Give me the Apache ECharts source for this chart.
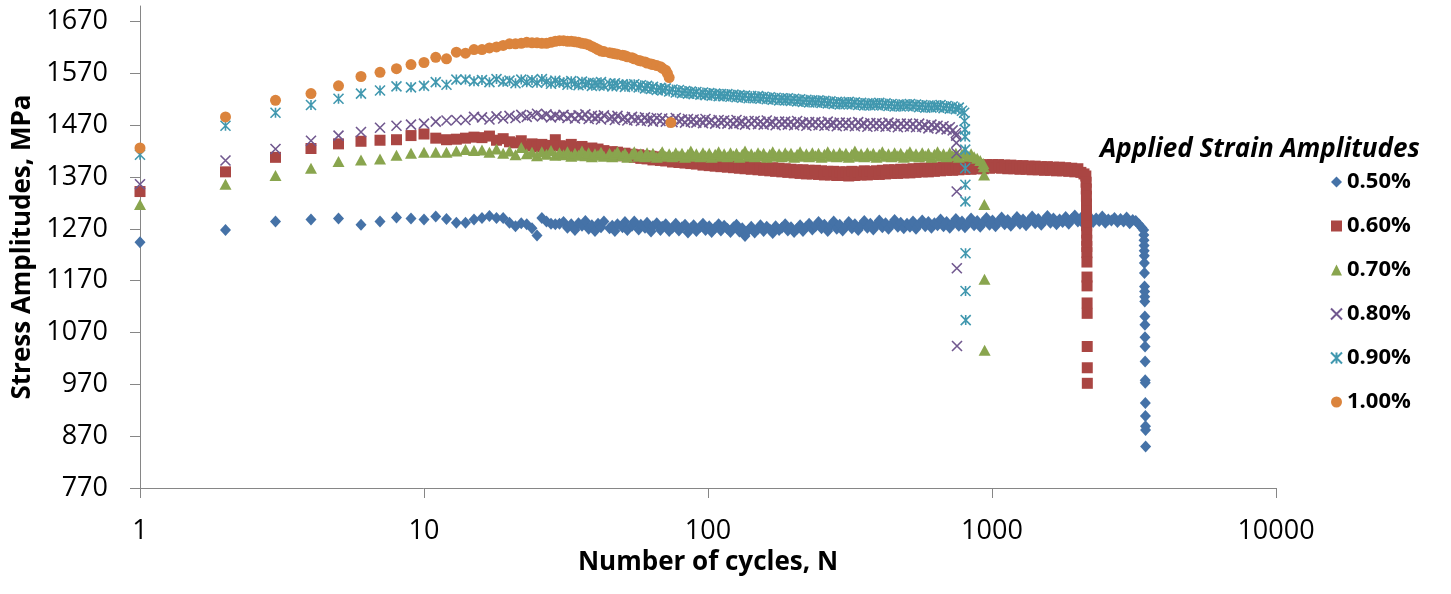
<!DOCTYPE html>
<html>
<head>
<meta charset="utf-8">
<title>Stress amplitude vs cycles</title>
<script src="https://cdn.jsdelivr.net/npm/echarts@6/dist/echarts.min.js"></script>
<style>
  html, body { margin: 0; padding: 0; background: #fff; }
  #chart { width: 1451px; height: 594px; }
</style>
</head>
<body>
<div id="chart"></div>
<script>
// cycle numbers shared by the series (every cycle up to 40, then sampled)
const cycles = [
  1, 2, 3, 4, 5, 6, 7, 8, 9, 10, 11, 12, 13, 14, 15, 16, 17, 18, 19, 20, 21, 22, 23, 24, 25, 26, 27, 28, 29, 30,
  31, 32, 33, 34, 35, 36, 37, 38, 39, 40,
  41, 42, 43, 45, 46, 47, 48, 50, 51, 52,
  54, 55, 57, 58, 60, 61, 63, 64, 66, 68,
  69, 71, 73, 75, 77, 79, 81, 83, 85, 87,
  89, 91, 94, 96, 98, 101, 103, 106, 109, 111,
  114, 117, 120, 123, 126, 129, 132, 135, 139, 142,
  146, 150, 153, 157, 161, 165, 169, 173, 178, 182,
  187, 191, 196, 201, 206, 211, 216, 222, 227, 233,
  239, 245, 251, 257, 264, 270, 277, 284, 291, 298,
  306, 313, 321, 329, 338, 346, 355, 364, 373, 382,
  392, 401, 411, 422, 432, 443, 454, 466, 477, 489,
  502, 514, 527, 540, 554, 568, 582, 597, 612, 627,
  643, 659, 675, 692, 710, 727, 746, 764, 784, 803,
  824, 844, 865, 887, 909, 932, 956, 980, 1004, 1029,
  1055, 1081, 1108, 1136, 1165, 1194, 1224, 1254, 1286, 1318,
  1351, 1385, 1419, 1455, 1491, 1529, 1567, 1606, 1646, 1687,
  1730, 1773, 1817, 1863, 1909, 1957, 2006, 2056, 2108, 2160,
  2215, 2270, 2327, 2385, 2445, 2506, 2568, 2633, 2699, 2766,
  2835, 2906, 2979, 3053, 3130, 3208, 3288, 3370
];

const names = ['0.50%', '0.60%', '0.70%', '0.80%', '0.90%', '1.00%'];
const yTicks = [770, 870, 970, 1070, 1170, 1270, 1370, 1470, 1570, 1670];

// stress amplitudes (MPa), one value per entry of cycles
const s050 = [
  1244, 1268, 1284, 1288, 1290, 1278, 1284, 1292, 1290, 1288, 1294, 1289, 1282, 1282, 1288,
  1291, 1295, 1291, 1291, 1282, 1275, 1281, 1279, 1271, 1257, 1291, 1284, 1280, 1279, 1280,
  1283, 1272, 1279, 1268, 1281, 1276, 1285, 1270, 1277, 1266,
  1280, 1273, 1284, 1271, 1276, 1266, 1279, 1273, 1283, 1268,
  1276, 1284, 1269, 1278, 1272, 1282, 1265, 1275, 1281, 1268,
  1274, 1279, 1266, 1272, 1280, 1267, 1273, 1278, 1263, 1271,
  1277, 1266, 1274, 1280, 1268, 1275, 1264, 1272, 1279, 1267,
  1276, 1270, 1264, 1273, 1278, 1265, 1271, 1256, 1268, 1274,
  1263, 1270, 1277, 1266, 1274, 1269, 1262, 1275, 1268, 1272,
  1279, 1267, 1273, 1264, 1270, 1277, 1266, 1274, 1280, 1269,
  1275, 1283, 1271, 1278, 1266, 1276, 1284, 1270, 1278, 1267,
  1275, 1283, 1271, 1279, 1268, 1277, 1285, 1272, 1280, 1269,
  1278, 1286, 1273, 1281, 1270, 1279, 1287, 1274, 1282, 1271,
  1280, 1274, 1284, 1270, 1279, 1286, 1275, 1283, 1272, 1281,
  1277, 1288, 1275, 1283, 1272, 1281, 1289, 1276, 1284, 1273,
  1282, 1290, 1277, 1285, 1274, 1283, 1291, 1278, 1286, 1275,
  1284, 1292, 1279, 1287, 1276, 1285, 1293, 1280, 1288, 1277,
  1286, 1294, 1281, 1289, 1278, 1287, 1295, 1282, 1290, 1279,
  1288, 1283, 1293, 1280, 1289, 1296, 1284, 1291, 1279, 1287,
  1292, 1283, 1290, 1285, 1294, 1282, 1288, 1286, 1291, 1283,
  1289, 1284, 1292, 1281, 1287, 1285, 1279, 1272
];
const s060 = [
  1342, 1380, 1408, 1425, 1434, 1439, 1441, 1442, 1450, 1453, 1445, 1442, 1443, 1445, 1447,
  1446, 1449, 1441, 1444, 1438, 1436, 1440, 1430, 1434, 1428, 1433, 1427, 1431, 1442, 1430,
  1430, 1425, 1433, 1427, 1422, 1429, 1424, 1419, 1426, 1420,
  1424, 1417, 1421, 1415, 1419, 1413, 1418, 1411, 1416, 1410,
  1414, 1408, 1413, 1406, 1411, 1405, 1410, 1403, 1409, 1402,
  1407, 1401, 1405, 1399, 1404, 1398, 1403, 1397, 1402, 1396,
  1401, 1395, 1400, 1393, 1399, 1392, 1397, 1391, 1396, 1390,
  1395, 1389, 1394, 1388, 1393, 1387, 1392, 1386, 1391, 1385,
  1390, 1384, 1389, 1383, 1388, 1382, 1388, 1381, 1387, 1380,
  1386, 1379, 1385, 1378, 1384, 1377, 1384, 1376, 1383, 1376,
  1383, 1375, 1382, 1374, 1381, 1374, 1381, 1373, 1380, 1373,
  1380, 1372, 1381, 1373, 1380, 1374, 1382, 1374, 1381, 1375,
  1382, 1375, 1383, 1376, 1384, 1377, 1384, 1377, 1385, 1378,
  1385, 1378, 1386, 1379, 1387, 1380, 1387, 1380, 1388, 1381,
  1388, 1382, 1389, 1383, 1390, 1383, 1391, 1384, 1391, 1385,
  1392, 1385, 1393, 1386, 1393, 1386, 1394, 1387, 1394, 1388,
  1394, 1387, 1393, 1386, 1393, 1386, 1392, 1385, 1392, 1385,
  1391, 1384, 1391, 1384, 1390, 1383, 1390, 1383, 1389, 1382,
  1389, 1382, 1388, 1381, 1387, 1380, 1386, 1379, 1376
];
const s070 = [
  1317, 1356, 1373, 1387, 1400, 1403, 1405, 1412, 1416, 1418, 1418, 1418, 1420, 1423, 1421,
  1422, 1418, 1424, 1416, 1420, 1413, 1427, 1415, 1418, 1411, 1419, 1414, 1421, 1412, 1417,
  1413, 1419, 1410, 1416, 1412, 1420, 1411, 1417, 1409, 1415,
  1412, 1418, 1410, 1416, 1409, 1414, 1419, 1411, 1416, 1408,
  1414, 1419, 1410, 1415, 1409, 1417, 1411, 1416, 1408, 1414,
  1419, 1410, 1415, 1409, 1417, 1411, 1416, 1408, 1414, 1420,
  1410, 1415, 1409, 1417, 1411, 1416, 1408, 1414, 1419, 1410,
  1415, 1409, 1417, 1411, 1416, 1408, 1414, 1420, 1410, 1415,
  1409, 1417, 1411, 1416, 1408, 1414, 1419, 1410, 1415, 1409,
  1417, 1411, 1416, 1408, 1414, 1419, 1410, 1415, 1409, 1417,
  1411, 1416, 1408, 1414, 1419, 1410, 1415, 1409, 1417, 1411,
  1416, 1408, 1414, 1420, 1410, 1415, 1409, 1417, 1411, 1416,
  1408, 1414, 1419, 1410, 1415, 1409, 1417, 1411, 1416, 1408,
  1414, 1419, 1410, 1415, 1409, 1417, 1411, 1416, 1408, 1414,
  1419, 1410, 1415, 1409, 1417, 1411, 1416, 1408, 1414, 1419,
  1410, 1415, 1409, 1406, 1402, 1396
];
const s080 = [
  1356, 1402, 1424, 1440, 1450, 1457, 1465, 1469, 1471, 1473, 1477, 1479, 1480, 1480, 1486,
  1485, 1481, 1487, 1483, 1488, 1484, 1490, 1486, 1489, 1492, 1487, 1491, 1485, 1489, 1486,
  1490, 1484, 1488, 1483, 1489, 1485, 1491, 1482, 1488, 1484,
  1487, 1481, 1489, 1483, 1486, 1480, 1488, 1482, 1485, 1479,
  1486, 1480, 1484, 1478, 1485, 1479, 1483, 1477, 1484, 1478,
  1483, 1477, 1482, 1476, 1484, 1478, 1481, 1475, 1482, 1477,
  1481, 1475, 1480, 1474, 1482, 1476, 1479, 1473, 1480, 1475,
  1479, 1473, 1478, 1472, 1480, 1474, 1477, 1471, 1478, 1473,
  1478, 1472, 1477, 1471, 1479, 1473, 1476, 1470, 1477, 1472,
  1477, 1471, 1476, 1470, 1478, 1472, 1475, 1469, 1476, 1471,
  1476, 1470, 1475, 1469, 1477, 1471, 1474, 1468, 1475, 1470,
  1475, 1469, 1474, 1468, 1476, 1470, 1473, 1467, 1474, 1469,
  1474, 1468, 1473, 1467, 1475, 1469, 1472, 1466, 1473, 1468,
  1473, 1467, 1472, 1466, 1473, 1467, 1470, 1464, 1471, 1466,
  1469, 1463, 1468, 1462, 1466, 1460, 1455
];
const s090 = [
  1413, 1469, 1494, 1509, 1521, 1531, 1537, 1545, 1543, 1546, 1553, 1548, 1558, 1558, 1555,
  1557, 1553, 1559, 1554, 1556, 1551, 1558, 1553, 1557, 1552, 1559, 1554, 1550, 1556, 1552,
  1553, 1548, 1555, 1550, 1547, 1554, 1549, 1552, 1546, 1551,
  1548, 1553, 1546, 1550, 1545, 1551, 1547, 1549, 1544, 1548,
  1545, 1549, 1543, 1547, 1541, 1546, 1540, 1544, 1538, 1542,
  1537, 1541, 1535, 1539, 1533, 1538, 1532, 1536, 1531, 1535,
  1530, 1534, 1529, 1533, 1528, 1532, 1527, 1531, 1526, 1530,
  1526, 1530, 1525, 1529, 1524, 1528, 1523, 1527, 1522, 1526,
  1522, 1526, 1521, 1525, 1520, 1524, 1519, 1523, 1518, 1522,
  1518, 1522, 1517, 1521, 1516, 1520, 1515, 1519, 1514, 1518,
  1514, 1518, 1513, 1517, 1512, 1516, 1511, 1515, 1510, 1514,
  1511, 1515, 1510, 1514, 1509, 1513, 1508, 1512, 1508, 1512,
  1509, 1513, 1508, 1512, 1507, 1511, 1506, 1510, 1506, 1510,
  1507, 1511, 1506, 1510, 1505, 1509, 1504, 1508, 1504, 1508,
  1505, 1509, 1503, 1507, 1502, 1506, 1501, 1504, 1498
];
const s100 = [
  1426, 1486, 1518, 1531, 1546, 1564, 1572, 1579, 1587, 1591, 1601, 1598, 1611, 1609, 1616,
  1616, 1619, 1621, 1624, 1627, 1627, 1628, 1630, 1629, 1629, 1628, 1628, 1630, 1632, 1633,
  1633, 1632, 1632, 1631, 1630, 1628, 1627, 1625, 1622, 1619,
  1616, 1613, 1612, 1610, 1609, 1608, 1607, 1605, 1604, 1602,
  1600, 1598, 1595, 1594, 1592, 1590, 1588, 1587, 1585, 1583,
  1580, 1576
];

// last cycles before failure, [cycle, stress]
const tail050 = [
  [3420, 1268], [3425, 1258], [3430, 1248], [3432, 1238], [3435, 1228], [3438, 1218], [3440, 1204],
  [3442, 1185], [3445, 1159], [3447, 1149], [3449, 1139], [3451, 1130], [3453, 1101], [3455, 1085],
  [3457, 1061], [3459, 1043], [3461, 1014], [3463, 978], [3465, 973], [3467, 934], [3469, 909],
  [3471, 889], [3473, 882], [3475, 850]
];
const tail060 = [
  [2140, 1372], [2145, 1360], [2148, 1347], [2150, 1333], [2151, 1318], [2152, 1304], [2153, 1290],
  [2154, 1276], [2155, 1262], [2156, 1248], [2157, 1236], [2158, 1224], [2159, 1206], [2160, 1177],
  [2161, 1160], [2162, 1127], [2163, 1107], [2164, 1043], [2165, 1002], [2166, 972]
];
const tail070 = [[936, 1390], [938, 1374], [940, 1317], [941, 1173], [942, 1036]];
const tail080 = [[748, 1450], [749, 1436], [750, 1416], [751, 1342], [752, 1194], [753, 1044]];
const tail090 = [
  [798, 1494], [801, 1478], [803, 1462], [804, 1448], [805, 1423], [805, 1387], [806, 1355],
  [806, 1323], [807, 1223], [807, 1150], [808, 1094]
];
const tail100 = [[72, 1570], [73, 1562], [74, 1475]];

const colors = ['#4572A7', '#AA4643', '#89A54E', '#71588F', '#4198AF', '#DB843D'];
const FONT = 'Open Sans';

function pairs(vals, tail) {
  return vals.map((v, i) => [cycles[i], v]).concat(tail);
}

const values = [s050, s060, s070, s080, s090, s100];
const tails = [tail050, tail060, tail070, tail080, tail090, tail100];
const symbols = [
  'diamond', 'rect', 'triangle',
  'path://M0,0L10,10M10,0L0,10',
  'path://M0,0L10,10M10,0L0,10M5,0L5,10',
  'circle'
];
const sizes = [[11, 12], 11, [12, 11], 10, 10, 11];
const stroked = [false, false, false, true, true, false];

const chart = echarts.init(document.getElementById('chart'));

chart.setOption({
  animation: false,
  backgroundColor: '#fff',
  title: {
    text: 'Applied Strain Amplitudes',
    left: 1100,
    top: 137,
    padding: 0,
    textStyle: { fontFamily: FONT, fontSize: 26, fontWeight: 'bold', fontStyle: 'italic', color: '#000' }
  },
  legend: {
    orient: 'vertical',
    left: 1330,
    top: 171,
    padding: 0,
    itemWidth: 11,
    itemHeight: 11,
    itemGap: 22,
    textStyle: { fontFamily: FONT, fontSize: 22, fontWeight: 'bold', color: '#000' },
    data: names
  },
  grid: { left: 140, right: 175, top: 6, bottom: 106 },
  xAxis: {
    type: 'log',
    logBase: 10,
    min: 1,
    max: 10000,
    name: 'Number of cycles, N',
    nameLocation: 'middle',
    nameGap: 59,
    nameTextStyle: { fontFamily: FONT, fontSize: 26, fontWeight: 'bold', color: '#000' },
    axisLine: { lineStyle: { color: '#868686', width: 1 } },
    axisTick: { show: true, length: 10, lineStyle: { color: '#868686' } },
    minorTick: { show: false },
    splitLine: { show: false },
    axisLabel: {
      margin: 30,
      fontFamily: FONT,
      fontSize: 27,
      color: '#000',
      formatter: v => String(Math.round(v))
    }
  },
  yAxis: {
    type: 'value',
    min: 770,
    max: 1700,
    name: 'Stress Amplitudes, MPa',
    nameLocation: 'middle',
    nameGap: 95,
    nameTextStyle: { fontFamily: FONT, fontSize: 26, fontWeight: 'bold', color: '#000' },
    axisLine: { show: true, lineStyle: { color: '#868686', width: 1 } },
    axisTick: { show: true, length: 10, customValues: yTicks, lineStyle: { color: '#868686' } },
    splitLine: { show: false },
    axisLabel: {
      margin: 32,
      fontFamily: FONT,
      fontSize: 27,
      color: '#000',
      customValues: yTicks,
      formatter: v => String(v)
    }
  },
  series: names.map((name, i) => ({
    name: name,
    type: 'scatter',
    symbol: symbols[i],
    symbolSize: sizes[i],
    itemStyle: stroked[i]
      ? { color: colors[i], borderColor: colors[i], borderWidth: 1.6, opacity: 1 }
      : { color: colors[i], borderWidth: 0, opacity: 1 },
    emphasis: { disabled: true },
    data: pairs(values[i], tails[i])
  }))
});
</script>
</body>
</html>
